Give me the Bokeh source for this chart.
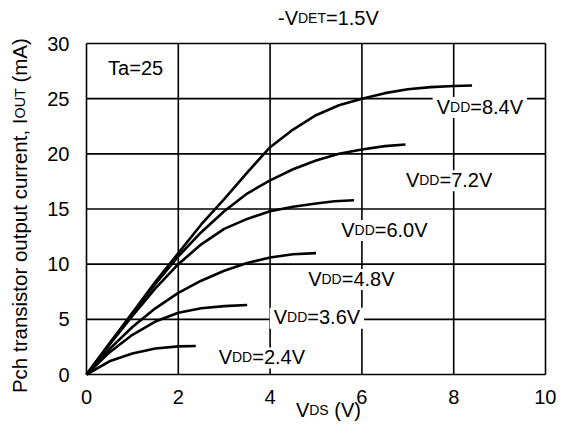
import math
from bokeh.plotting import figure
from bokeh.models import Label, Range1d, FixedTicker, LinearAxis
from bokeh.embed import file_html
from bokeh.resources import INLINE

# ---------------- data ----------------
vds_84 = [0, 0.5, 1, 1.5, 2, 2.5, 3, 3.5, 4, 4.5, 5, 5.5, 6, 6.5, 7, 7.5, 8, 8.4]
iout_84 = [0, 2.8, 5.6, 8.4, 11.0, 13.6, 15.9, 18.3, 20.6, 22.2, 23.5, 24.4, 25.0, 25.5, 25.85, 26.05, 26.15, 26.2]

vds_72 = [0, 0.5, 1, 1.5, 2, 2.5, 3, 3.5, 4, 4.5, 5, 5.5, 6, 6.5, 6.95]
iout_72 = [0, 2.8, 5.5, 8.2, 10.7, 12.9, 14.8, 16.4, 17.6, 18.6, 19.4, 20.0, 20.4, 20.7, 20.85]

vds_60 = [0, 0.5, 1, 1.5, 2, 2.5, 3, 3.5, 4, 4.5, 5, 5.4, 5.83]
iout_60 = [0, 2.7, 5.3, 7.8, 10.0, 11.8, 13.2, 14.1, 14.8, 15.2, 15.5, 15.7, 15.8]

vds_48 = [0, 0.5, 1, 1.5, 2, 2.5, 3, 3.5, 4, 4.5, 5.0]
iout_48 = [0, 2.3, 4.3, 6.0, 7.4, 8.5, 9.4, 10.1, 10.6, 10.9, 11.0]

vds_36 = [0, 0.5, 1, 1.5, 2, 2.5, 3, 3.5]
iout_36 = [0, 2.0, 3.6, 4.8, 5.6, 6.0, 6.2, 6.3]

vds_24 = [0, 0.5, 1, 1.5, 2, 2.38]
iout_24 = [0, 1.2, 1.9, 2.35, 2.55, 2.58]

curves = [(vds_84, iout_84), (vds_72, iout_72), (vds_60, iout_60),
          (vds_48, iout_48), (vds_36, iout_36), (vds_24, iout_24)]

vdd_labels = ["8.4V", "7.2V", "6.0V", "4.8V", "3.6V", "2.4V"]
label_x = [8.57, 7.90, 6.49, 5.77, 5.02, 3.82]
label_y = [24.2, 17.55, 13.05, 8.6, 5.1, 1.5]

x_ticks = [0, 2, 4, 6, 8, 10]
y_ticks = [0, 5, 10, 15, 20, 25, 30]
X_MIN, X_MAX = 0, 10
Y_MIN, Y_MAX = 0, 30

FONT = "Liberation Sans"
BIG = 20
SMALL = 14

# Arial / Liberation Sans advance widths (per 1000 em)
WID = {' ': 278, '(': 333, ')': 333, ',': 278, '-': 333, '.': 278, '=': 584,
       'A': 667, 'D': 722, 'E': 667, 'I': 278, 'O': 778, 'P': 667, 'S': 667,
       'T': 611, 'U': 722, 'V': 667, 'a': 556, 'c': 500, 'e': 556, 'h': 556,
       'i': 222, 'm': 833, 'n': 556, 'o': 556, 'p': 556, 'r': 333, 's': 500,
       't': 278, 'u': 556}


def tw(s, size):
    return sum(WID.get(c, 556) for c in s) * size / 1000.0


# ---------------- layout: the frame fills the canvas, the data box sits inside it
CW, CH = 556, 423
BOX_L, BOX_R, BOX_T, BOX_B = 86, 545, 43, 374   # canvas pixels of the data box
sx = (BOX_R - BOX_L) / (X_MAX - X_MIN)
sy = (BOX_B - BOX_T) / (Y_MAX - Y_MIN)
xr = Range1d(X_MIN - BOX_L / sx, X_MAX + (CW - BOX_R) / sx)
yr = Range1d(Y_MIN - (CH - BOX_B) / sy, Y_MAX + BOX_T / sy)

p = figure(width=CW, height=CH, output_backend="svg", toolbar_location=None,
           x_range=xr, y_range=yr, x_axis_location=None, y_axis_location=None,
           min_border=0)
p.background_fill_color = "white"
p.border_fill_color = "white"
p.outline_line_color = None
p.xgrid.visible = False
p.ygrid.visible = False

xaxis = LinearAxis(fixed_location=Y_MIN, ticker=FixedTicker(ticks=x_ticks),
                   bounds=(X_MIN, X_MAX))
yaxis = LinearAxis(fixed_location=X_MIN, ticker=FixedTicker(ticks=y_ticks),
                   bounds=(Y_MIN, Y_MAX))
for ax in (xaxis, yaxis):
    ax.axis_line_color = None
    ax.major_tick_line_color = None
    ax.minor_tick_line_color = None
    ax.major_label_text_font = FONT
    ax.major_label_text_font_size = f"{BIG}px"
    ax.major_label_text_color = "black"
xaxis.major_label_standoff = 9
yaxis.major_label_standoff = 11
p.add_layout(xaxis, "below")
p.add_layout(yaxis, "left")

# grid lines (bounded to the data box) at the tick values
p.segment(x0=x_ticks, x1=x_ticks, y0=[Y_MIN] * len(x_ticks), y1=[Y_MAX] * len(x_ticks),
          line_color="black", line_width=1.6)
p.segment(x0=[X_MIN] * len(y_ticks), x1=[X_MAX] * len(y_ticks), y0=y_ticks, y1=y_ticks,
          line_color="black", line_width=1.6)

for xs, ys in curves:
    p.line(xs, ys, line_color="black", line_width=2.6)


def rich(x, y, pieces, angle=0.0, bg=False, align="center"):
    total = sum(tw(t, s) for t, s in pieces)
    big = max(s for _, s in pieces)
    off = -total / 2.0 if align == "center" else 0.0
    shift = 0.36 * big - 8.0
    if bg:
        p.rect(x=[x], y=[y], width=[total + 8], height=[big * 1.05],
               width_units="screen", height_units="screen",
               fill_color="white", line_color=None)
    for t, s in pieces:
        lead = len(t) - len(t.lstrip(" "))
        off += tw(" " * lead, s)
        t2 = t.lstrip(" ")
        if angle == 0:
            lab = Label(x=x, y=y, x_offset=off, y_offset=-shift, text=t2,
                        text_font=FONT, text_font_size=f"{s}px",
                        text_color="black", text_align="left",
                        text_baseline="alphabetic")
        else:
            lab = Label(x=x, y=y, x_offset=shift, y_offset=off, text=t2,
                        angle=angle, text_font=FONT, text_font_size=f"{s}px",
                        text_color="black", text_align="left",
                        text_baseline="alphabetic")
        p.add_layout(lab)
        off += tw(t2, s)


for lx, ly, lt in zip(label_x, label_y, vdd_labels):
    rich(lx, ly, [("V", BIG), ("DD", SMALL), ("=" + lt, BIG)], bg=True)

rich(0.47, 27.7, [("Ta=25", BIG)], align="left")
rich(5.27, 32.2, [("-V", BIG), ("DET", SMALL), ("=1.5V", BIG)])
rich(5.27, -3.3, [("V", BIG), ("DS", SMALL), (" (V)", BIG)])
rich(-1.44, 14.4, [("Pch transistor output current, I", 20.5), ("OUT", 14.3),
                   (" (mA)", 20.5)], angle=math.pi / 2)

open("out.html", "w").write(file_html(p, INLINE))
